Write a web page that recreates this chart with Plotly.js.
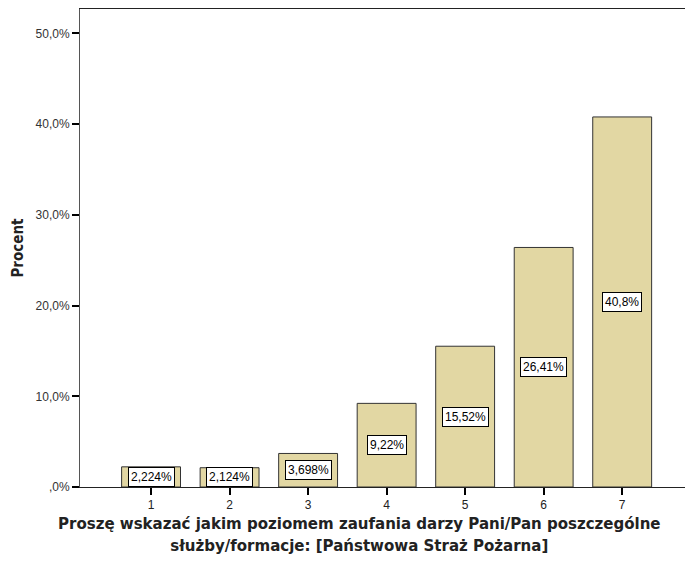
<!DOCTYPE html>
<html>
<head>
<meta charset="utf-8">
<script src="https://cdn.plot.ly/plotly-3.0.1.min.js"></script>
<style>html,body{margin:0;padding:0;background:#fff;overflow:hidden}</style>
</head>
<body>
<div id="chart" style="width:685px;height:562px"></div>
<script>
var categories = [1, 2, 3, 4, 5, 6, 7];
var percents = [2.224, 2.124, 3.698, 9.22, 15.52, 26.41, 40.8];
var barLabels = ["2,224%", "2,124%", "3,698%", "9,22%", "15,52%", "26,41%", "40,8%"];
var yTickVals = [0, 10, 20, 30, 40, 50];
var yTickText = [",0%", "10,0%", "20,0%", "30,0%", "40,0%", "50,0%"];
var xTitle = "Proszę wskazać jakim poziomem zaufania darzy Pani/Pan poszczególne<br>służby/formacje: [Państwowa Straż Pożarna]";
var yTitle = "Procent";

var trace = {
  type: "bar",
  x: categories,
  y: percents,
  width: 0.75,
  marker: {color: "#e2d7a3", line: {color: "#333333", width: 1}},
  hoverinfo: "none"
};

var annotations = categories.map(function (c, i) {
  return {
    x: c, y: percents[i] / 2, xref: "x", yref: "y",
    text: barLabels[i], showarrow: false,
    font: {family: "Liberation Sans, Arial, sans-serif", size: 12, color: "#000"},
    bgcolor: "#ffffff", bordercolor: "#000000", borderwidth: 1, borderpad: 2
  };
});
annotations.push({
  xref: "paper", yref: "paper", x: 0.462, y: -0.05, yanchor: "top",
  text: "<b>" + xTitle + "</b>", showarrow: false,
  font: {family: "DejaVu Sans Condensed, Liberation Sans Narrow, sans-serif", size: 16.7, color: "#222"},
  align: "center"
});

var layout = {
  width: 685, height: 562,
  margin: {l: 80, r: 0, t: 9, b: 75},
  paper_bgcolor: "#fff", plot_bgcolor: "#fff",
  showlegend: false,
  xaxis: {
    range: [0.095, 7.8], tickvals: categories, ticktext: categories.map(String),
    showline: true, linecolor: "#222", linewidth: 1, mirror: true,
    ticks: "outside", ticklen: 7, tickwidth: 2, tickcolor: "#000",
    showgrid: false, zeroline: false,
    tickfont: {family: "Liberation Sans, Arial, sans-serif", size: 12, color: "#222"}
  },
  yaxis: {
    range: [0, 52.7], tickvals: yTickVals, ticktext: yTickText,
    showline: true, linecolor: "#555", linewidth: 1,
    ticks: "outside", ticklen: 7, tickwidth: 2, tickcolor: "#000",
    showgrid: false, zeroline: false,
    tickfont: {family: "Liberation Sans, Arial, sans-serif", size: 12, color: "#333"},
    title: {text: "<b>" + yTitle + "</b>", standoff: 8,
      font: {family: "DejaVu Sans Condensed, Liberation Sans, sans-serif", size: 15, color: "#222"}}
  },
  annotations: annotations
};

Plotly.newPlot("chart", [trace], layout, {displayModeBar: false, staticPlot: true});
</script>
</body>
</html>
